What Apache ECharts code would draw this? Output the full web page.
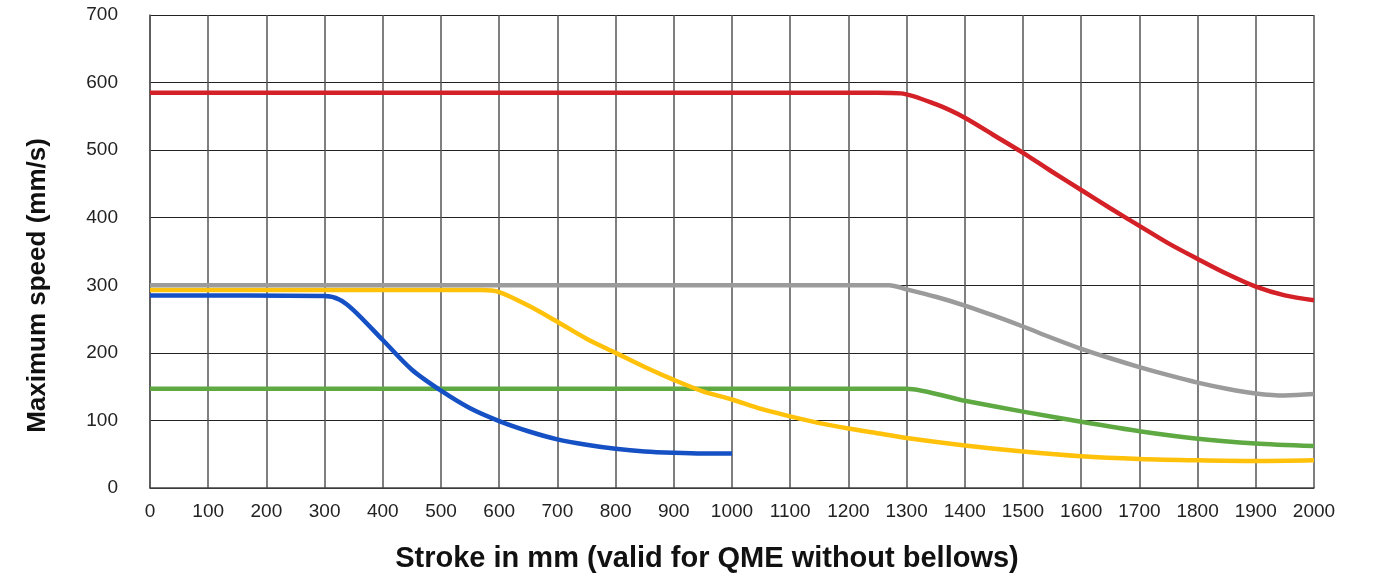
<!DOCTYPE html>
<html>
<head>
<meta charset="utf-8">
<script src="https://cdn.jsdelivr.net/npm/echarts@6/dist/echarts.min.js"></script>
<style>
html,body{margin:0;padding:0;background:#fff;}
#chart{width:1379px;height:579px;}
</style>
</head>
<body>
<div id="chart"></div>
<script>
// Stroke (mm) and max speed (mm/s) for each curve
const redStroke    = [0, 1250, 1290, 1350, 1400, 1450, 1500, 1550, 1600, 1650, 1700, 1750, 1800, 1850, 1900, 1950, 2000];
const redSpeed     = [585, 585, 584, 568, 548, 522, 496, 468, 441, 414, 388, 362, 339, 317, 298, 285, 278];
const grayStroke   = [0, 1270, 1300, 1350, 1400, 1450, 1500, 1550, 1600, 1650, 1700, 1750, 1800, 1850, 1900, 1950, 2000];
const graySpeed    = [300, 300, 294, 283, 270, 255, 239, 222, 206, 192, 179, 167, 156, 147, 140, 137, 139];
const yellowStroke = [0, 570, 600, 650, 700, 750, 800, 850, 900, 950, 1000, 1050, 1100, 1150, 1200, 1250, 1300, 1400, 1500, 1600, 1700, 1800, 1900, 2000];
const yellowSpeed  = [293, 293, 290, 270, 246, 221, 200, 179, 160, 143, 131, 117, 106, 96, 88, 81, 74, 63, 54, 47, 43, 41, 40, 41];
const blueStroke   = [0, 300, 325, 350, 400, 450, 500, 550, 600, 650, 700, 750, 800, 850, 900, 950, 1000];
const blueSpeed    = [285, 284, 279, 263, 219, 175, 144, 118, 99, 84, 72, 64, 58, 54, 52, 51, 51];
const greenStroke  = [0, 1300, 1400, 1500, 1600, 1700, 1800, 1900, 2000];
const greenSpeed   = [147, 147, 129, 113, 98, 84, 73, 66, 62];

const xTitle = 'Stroke in mm (valid for QME without bellows)';
const yTitle = 'Maximum speed (mm/s)';

function pairs(xs, ys){ return xs.map((x,i)=>[x, ys[i]]); }
function line(name, xs, ys, color, smooth){
  return {
    name, type:'line', data: pairs(xs, ys), smooth: smooth, showSymbol:false, symbol:'none',
    lineStyle:{color, width:4.5}, itemStyle:{color}, z:3, silent:true
  };
}

const chart = echarts.init(document.getElementById('chart'), null, {renderer:'canvas'});
chart.setOption({
  animation:false,
  backgroundColor:'#fff',
  grid:{left:150, right:65, top:15, bottom:91, containLabel:false},
  xAxis:{
    type:'value', min:0, max:2000, interval:100,
    name:xTitle, nameLocation:'middle', nameGap:56,
    nameTextStyle:{fontFamily:'Liberation Sans', fontWeight:'bold', fontSize:29, color:'#111', padding:[0,50,0,0]},
    axisLine:{show:true, lineStyle:{color:'#444', width:1.5}},
    axisTick:{show:false},
    axisLabel:{fontFamily:'Liberation Sans', fontSize:19, color:'#222', margin:14, formatter:(v)=>String(v)},
    splitLine:{show:true, lineStyle:{color:'#555', width:1.5}}
  },
  yAxis:{
    type:'value', min:0, max:700, interval:100,
    name:yTitle, nameLocation:'middle', nameGap:99, nameRotate:90,
    nameTextStyle:{fontFamily:'Liberation Sans', fontWeight:'bold', fontSize:26, color:'#111', padding:[0,68,0,0]},
    axisLine:{show:true, lineStyle:{color:'#555', width:1.5}},
    axisTick:{show:false},
    axisLabel:{fontFamily:'Liberation Sans', fontSize:19, color:'#222', margin:32},
    splitLine:{show:true, lineStyle:{color:'#222', width:1.2}}
  },
  series:[
    line('green', greenStroke, greenSpeed, '#5fa943', 0.25),
    line('blue', blueStroke, blueSpeed, '#1550c4', 0.3),
    line('yellow', yellowStroke, yellowSpeed, '#ffc10a', 0.3),
    line('gray', grayStroke, graySpeed, '#9b9b9b', 0.3),
    line('red', redStroke, redSpeed, '#d42128', 0.3)
  ]
});
</script>
</body>
</html>
